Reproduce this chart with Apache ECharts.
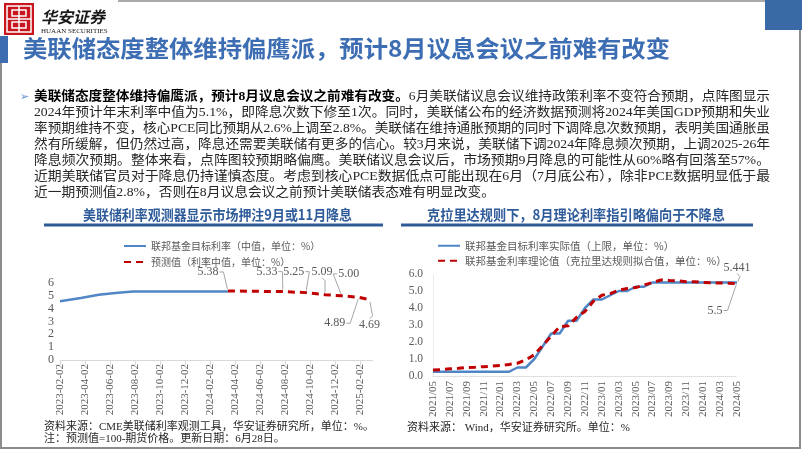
<!DOCTYPE html>
<html><head><meta charset="utf-8">
<script src="https://cdn.jsdelivr.net/npm/echarts@6/dist/echarts.min.js"></script>
<style>html,body{margin:0;padding:0;background:#fff}#c{width:802px;height:451px}</style>
</head><body><div id="c"></div>
<script>
// ---------- Left chart data ----------
const leftTickLabels = ['2023-02-02','2023-04-02','2023-06-02','2023-08-02','2023-10-02','2023-12-02','2024-02-02','2024-04-02','2024-06-02','2024-08-02','2024-10-02','2024-12-02','2025-02-02'];
const leftActualDates = ['2023-02-02','2023-03-22','2023-05-05','2023-06-15','2023-07-27','2024-03-15'];
const leftActualValues = [4.58, 4.83, 5.08, 5.22, 5.33, 5.33];
const leftForecastDates = ['2024-03-15','2024-07-27','2024-09-22','2024-11-08','2024-12-18','2025-01-29','2025-02-25'];
const leftForecastValues = [5.38, 5.33, 5.25, 5.09, 5.00, 4.89, 4.69];

// ---------- Right chart data ----------
const rightMonths = ['2021/05','2021/06','2021/07','2021/08','2021/09','2021/10','2021/11','2021/12',
  '2022/01','2022/02','2022/03','2022/04','2022/05','2022/06','2022/07','2022/08','2022/09','2022/10','2022/11','2022/12',
  '2023/01','2023/02','2023/03','2023/04','2023/05','2023/06','2023/07','2023/08','2023/09','2023/10','2023/11','2023/12',
  '2024/01','2024/02','2024/03','2024/04','2024/05'];
const rightActual = [0.25,0.25,0.25,0.25,0.25,0.25,0.25,0.25,0.25,0.25,0.5,0.5,1.0,1.75,2.5,2.5,3.25,3.25,4.0,4.5,
  4.5,4.75,5.0,5.0,5.25,5.25,5.5,5.5,5.5,5.5,5.5,5.5,5.5,5.5,5.5,5.5,5.5];
const rightTheory = [0.35,0.37,0.42,0.45,0.5,0.52,0.55,0.58,0.62,0.68,0.75,0.95,1.25,1.8,2.35,2.9,2.95,3.45,3.8,4.4,
  4.75,4.85,5.05,5.15,5.2,5.35,5.5,5.65,5.62,5.6,5.55,5.55,5.5,5.48,5.47,5.46,5.441];

// ---------- Texts ----------
const mainTitle = '美联储态度整体维持偏鹰派，预计8月议息会议之前难有改变';
const bodyBold = '美联储态度整体维持偏鹰派，预计8月议息会议之前难有改变。';
const bodyLines = [
  '6月美联储议息会议维持政策利率不变符合预期，点阵图显示',
  '2024年预计年末利率中值为5.1%，即降息次数下修至1次。同时，美联储公布的经济数据预测将2024年美国GDP预期和失业',
  '率预期维持不变，核心PCE同比预期从2.6%上调至2.8%。美联储在维持通胀预期的同时下调降息次数预期，表明美国通胀虽',
  '然有所缓解，但仍然过高，降息还需要美联储有更多的信心。较3月来说，美联储下调2024年降息频次预期，上调2025-26年',
  '降息频次预期。整体来看，点阵图较预期略偏鹰。美联储议息会议后，市场预期9月降息的可能性从60%略有回落至57%。',
  '近期美联储官员对于降息仍持谨慎态度。考虑到核心PCE数据低点可能出现在6月（7月底公布），除非PCE数据明显低于最',
  '近一期预测值2.8%，否则在8月议息会议之前预计美联储表态难有明显改变。'
];
const leftTitle = '美联储利率观测器显示市场押注9月或11月降息';
const rightTitle = '克拉里达规则下，8月理论利率指引略偏向于不降息';
const leftNames = ['联邦基金目标利率（中值，单位：%）','预测值（利率中值，单位：%）'];
const rightNames = ['联邦基金目标利率实际值（上限，单位：%）','联邦基金利率理论值（克拉里达规则拟合值，单位：%）'];
const leftSource1 = '资料来源：CME美联储利率观测工具，华安证券研究所，单位：%。';
const leftSource2 = '注：预测值=100-期货价格。更新日期：6月28日。';
const rightSource = '资料来源： Wind，华安证券研究所。单位：%';

// ---------- helpers ----------
const FAM = '"Liberation Serif","Noto Sans CJK SC",serif';
const CJK = '"Noto Sans CJK SC","Liberation Serif",sans-serif';
const mctx = document.createElement('canvas').getContext('2d');
function tw(t, size, weight, fam){ mctx.font = (weight||'normal')+' '+size+'px '+fam; return mctx.measureText(t).width; }
function mIdx(s){ const p = s.split('-').map(Number); return (p[0]-2023)*12 + (p[1]-2) + (p[2]-2)/30; }

const BLUE = '#4f87c6', RED = '#c00000', GRAY = '#595959';

// ---------- graphics ----------
const g = [];
g.push({type:'line', shape:{x1:118,y1:1,x2:766,y2:1}, style:{stroke:'#8c8c8c',lineWidth:1.5}});
g.push({type:'line', shape:{x1:800,y1:30,x2:800,y2:449}, style:{stroke:'#8c8c8c',lineWidth:2}});
g.push({type:'line', shape:{x1:1,y1:448,x2:801,y2:448}, style:{stroke:'#8c8c8c',lineWidth:2}});
g.push({type:'line', shape:{x1:1,y1:62,x2:1,y2:449}, style:{stroke:'#8c8c8c',lineWidth:2}});
g.push({type:'rect', shape:{x:765,y:0,width:37,height:30}, style:{fill:'#3a6aa5'}});
// logo
g.push({type:'rect', shape:{x:4,y:3,width:30,height:32}, style:{fill:'#c8161e'}});
g.push({type:'rect', shape:{x:7,y:6,width:24,height:26}, style:{fill:'none',stroke:'#fff',lineWidth:1.5}});
g.push({type:'rect', shape:{x:12,y:10,width:14,height:6}, style:{fill:'none',stroke:'#fff',lineWidth:1.5}});
g.push({type:'rect', shape:{x:12,y:22,width:14,height:6}, style:{fill:'none',stroke:'#fff',lineWidth:1.5}});
g.push({type:'line', shape:{x1:19,y1:6,x2:19,y2:32}, style:{stroke:'#fff',lineWidth:1.5}});
g.push({type:'line', shape:{x1:7,y1:19,x2:31,y2:19}, style:{stroke:'#fff',lineWidth:1.5}});
g.push({type:'text', x:41, y:17, style:{text:'华安证券', font:'italic bold 16px '+CJK, fill:'#1a1a1a', verticalAlign:'middle'}});
g.push({type:'text', x:41, y:31, style:{text:'HUAAN SECURITIES', font:'7px '+FAM, fill:'#1a1a1a', verticalAlign:'middle'}});
// title bar
g.push({type:'rect', shape:{x:0,y:36,width:8,height:27}, style:{fill:'#3d6cb0'}});
function fitText(t, x0, x1, y, size, color, weight, fam){
  fam = fam || CJK;
  const w = tw(t, size, weight||'normal', fam);
  g.push({type:'text', x:x0, y:y, scaleX:(x1-x0)/w, style:{text:t, font:(weight||'normal')+' '+size+'px '+fam, fill:color, verticalAlign:'middle'}});
}
fitText(mainTitle, 23, 670, 48, 23, '#3d6db3', 'bold');
// body text
const BS = 13, BX = 34, BW = 736, BY0 = 97, BDY = 16;
g.push({type:'text', x:20, y:BY0, style:{text:'➢', font:'11px "DejaVu Sans"', fill:'#5b8fd0', verticalAlign:'middle'}});
const wB = tw(bodyBold, BS, 'bold', FAM), wN = tw(bodyLines[0], BS, 'normal', FAM);
const s1 = BW/(wB+wN);
g.push({type:'text', x:BX, y:BY0, scaleX:s1, style:{text:bodyBold, font:'bold '+BS+'px '+FAM, fill:'#000', verticalAlign:'middle'}});
g.push({type:'text', x:BX + wB*s1, y:BY0, scaleX:s1, style:{text:bodyLines[0], font:BS+'px '+FAM, fill:'#262626', verticalAlign:'middle'}});
let sSum = s1;
for (let i=1;i<bodyLines.length;i++){
  const w = tw(bodyLines[i], BS, 'normal', FAM);
  let s = BW/w;
  if (i < bodyLines.length-1) sSum += s; else s = sSum/(bodyLines.length-1);
  g.push({type:'text', x:BX, y:BY0+BDY*i, scaleX:s, style:{text:bodyLines[i], font:BS+'px '+FAM, fill:'#262626', verticalAlign:'middle'}});
}
// chart titles
fitText(leftTitle, 83, 352, 215, 14, '#2e5b9a', 'bold');
fitText(rightTitle, 427, 725, 215, 14, '#2e5b9a', 'bold');
g.push({type:'rect', shape:{x:44,y:223.5,width:339,height:3}, style:{fill:'#2e5b96'}});
g.push({type:'rect', shape:{x:401,y:223.5,width:352,height:3}, style:{fill:'#2e5b96'}});
// sources
g.push({type:'text', x:44, y:427, style:{text:leftSource1, font:'11px '+FAM, fill:'#262626', verticalAlign:'middle'}});
g.push({type:'text', x:44, y:439, style:{text:leftSource2, font:'11px '+FAM, fill:'#262626', verticalAlign:'middle'}});
g.push({type:'text', x:407, y:428, style:{text:rightSource, font:'11px '+FAM, fill:'#262626', verticalAlign:'middle'}});

// ---------- label offsets (style) ----------
const leftLabelOffsets = [[-20,-19],[-16,-20],[-12,-21],[-3,-23],[7,-22],[-24,26],[0,25]];
const rightLabelOffsets = [[-22,28],[0,-16]];
const LBL = 12;

const axisLabelStyle = {fontFamily:FAM, fontSize:11, color:GRAY};
const option = {
  animation:false,
  graphic: g,
  grid:[
    {left:60, right:429.5, top:283, bottom:91},
    {left:433, right:65, top:274, bottom:75}
  ],
  legend:[
    {data:leftNames, orient:'vertical', left:118, top:236, itemWidth:22, itemHeight:10, itemGap:6,
     textStyle:{fontFamily:CJK, fontSize:10, color:GRAY}, itemStyle:{opacity:0}, selectedMode:false},
    {data:rightNames, orient:'vertical', left:432, top:235.5, itemWidth:22, itemHeight:10, itemGap:4.5,
     textStyle:{fontFamily:CJK, fontSize:10.5, color:GRAY}, itemStyle:{opacity:0}, selectedMode:false}
  ],
  xAxis:[
    {type:'value', gridIndex:0, min:0, max:25, interval:2, splitLine:{show:false},
     axisLine:{lineStyle:{color:'#d9d9d9'}}, axisTick:{show:true, lineStyle:{color:'#d9d9d9'}},
     axisLabel:Object.assign({rotate:90, margin:4, showMaxLabel:false, formatter:(v)=> leftTickLabels[v/2] || ''}, axisLabelStyle)},
    {type:'category', gridIndex:1, data:rightMonths, boundaryGap:false,
     axisLine:{lineStyle:{color:'#d9d9d9', type:'dotted'}}, axisTick:{show:false},
     axisLabel:Object.assign({rotate:90, interval:1, margin:5}, axisLabelStyle)}
  ],
  yAxis:[
    {type:'value', gridIndex:0, min:0, max:6, interval:1, splitLine:{show:false}, axisLine:{show:false}, axisTick:{show:false},
     axisLabel:Object.assign({margin:6}, axisLabelStyle, {fontSize:12})},
    {type:'value', gridIndex:1, min:0, max:6, interval:1, splitLine:{show:false},
     axisLine:{show:true, lineStyle:{color:'#e6e6e6', type:'dotted'}}, axisTick:{show:false},
     axisLabel:Object.assign({margin:10, formatter:(v)=>v.toFixed(1)}, axisLabelStyle, {fontSize:11.5})}
  ],
  series:[
    {name:leftNames[0], type:'line', xAxisIndex:0, yAxisIndex:0, symbol:'none', silent:true,
     lineStyle:{color:BLUE, width:2.5}, itemStyle:{color:BLUE},
     data:leftActualDates.map((d,i)=>[mIdx(d), leftActualValues[i]])},
    {name:leftNames[1], type:'line', xAxisIndex:0, yAxisIndex:0, symbol:'circle', symbolSize:0, silent:true,
     lineStyle:{color:RED, width:3, type:[7,5]}, itemStyle:{color:RED},
     label:{show:true, position:'inside', fontFamily:FAM, fontSize:LBL, color:GRAY, formatter:(p)=>p.value[1].toFixed(2)},
     labelLayout:(p)=>{ const o = leftLabelOffsets[p.dataIndex]; return {dx:o[0], dy:o[1]}; },
     data:leftForecastDates.map((d,i)=>[mIdx(d), leftForecastValues[i]])},
    {name:rightNames[0], type:'line', xAxisIndex:1, yAxisIndex:1, symbol:'circle', symbolSize:0, silent:true,
     lineStyle:{color:BLUE, width:2.5}, itemStyle:{color:BLUE},
     label:{show:false, position:'inside', fontFamily:FAM, fontSize:LBL, color:GRAY, formatter:(p)=>String(p.value)},
     labelLayout:()=>({dx:rightLabelOffsets[0][0], dy:rightLabelOffsets[0][1]}),
     data:rightActual.map((v,i)=> i===rightActual.length-1 ? {value:v, label:{show:true}} : v)},
    {name:rightNames[1], type:'line', xAxisIndex:1, yAxisIndex:1, symbol:'circle', symbolSize:0, silent:true,
     lineStyle:{color:RED, width:3, type:[7,5]}, itemStyle:{color:RED},
     label:{show:false, position:'inside', fontFamily:FAM, fontSize:LBL, color:GRAY, formatter:(p)=>String(p.value)},
     labelLayout:()=>({dx:rightLabelOffsets[1][0], dy:rightLabelOffsets[1][1]}),
     data:rightTheory.map((v,i)=> i===rightTheory.length-1 ? {value:v, label:{show:true}} : v)}
  ]
};
const chart = echarts.init(document.getElementById('c'), null, {renderer:'canvas'});
chart.setOption(option);

// ---------- leader lines, positioned through the chart's own scales ----------
function leader(pt, off, text){
  const w = tw(text, LBL, 'normal', FAM), h = LBL;
  const cx = pt[0] + off[0], cy = pt[1] + off[1];
  let start, mid;
  if (Math.abs(off[0]) >= 6) {
    const sx = off[0] < 0 ? 1 : -1;
    start = [cx + sx*(w/2 + 1), cy];
    mid = [start[0] + sx*4, cy];
  } else {
    const sy = off[1] < 0 ? 1 : -1;
    start = [cx, cy + sy*(h/2)];
    mid = [cx + 3, start[1] + sy*3];
  }
  const dx = pt[0]-mid[0], dy = pt[1]-mid[1], L = Math.hypot(dx,dy) || 1;
  const end = [pt[0] - dx/L*2, pt[1] - dy/L*2];
  return {type:'polyline', shape:{points:[start, mid, end]}, style:{stroke:'#a6a6a6', lineWidth:1, fill:null}, silent:true};
}
const leaders = [];
leftForecastDates.forEach((d,i)=>{
  const pt = chart.convertToPixel({gridIndex:0}, [mIdx(d), leftForecastValues[i]]);
  leaders.push(leader(pt, leftLabelOffsets[i], leftForecastValues[i].toFixed(2)));
});
{
  const n = rightMonths.length-1;
  const p0 = chart.convertToPixel({gridIndex:1}, [rightMonths[n], rightActual[n]]);
  leaders.push(leader(p0, rightLabelOffsets[0], String(rightActual[n])));
  const p1 = chart.convertToPixel({gridIndex:1}, [rightMonths[n], rightTheory[n]]);
  leaders.push(leader(p1, rightLabelOffsets[1], String(rightTheory[n])));
}
chart.setOption({graphic: g.concat(leaders)});
</script>
</body></html>
